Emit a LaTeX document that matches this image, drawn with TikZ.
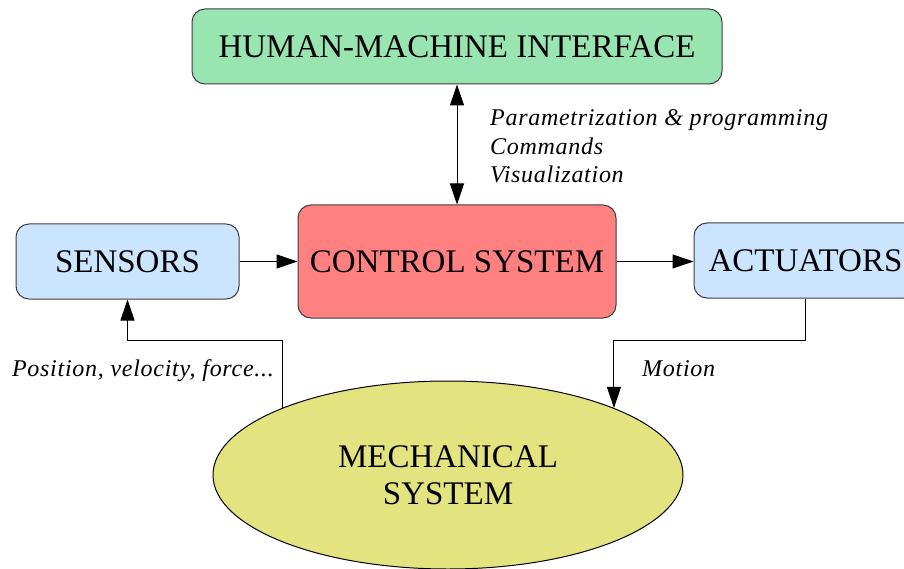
\documentclass[tikz,border=0pt]{standalone}
\usepackage{fontspec}
\setmainfont{Liberation Serif}
\newfontfamily\lblfont[LetterSpace=3]{Liberation Serif}
\usetikzlibrary{arrows.meta,shapes.geometric}

\definecolor{hmifill}{RGB}{153,229,178}
\definecolor{ctrlfill}{RGB}{255,128,128}
\definecolor{iofill}{RGB}{204,229,255}
\definecolor{mechfill}{RGB}{227,227,128}
\definecolor{edge}{RGB}{60,60,60}

\begin{document}
\begin{tikzpicture}[x=1pt,y=-1pt,
  box/.style={draw=edge, line width=1pt, rounded corners=13pt, inner sep=0pt,
    font=\fontsize{33}{37}\selectfont},
  conn/.style={line width=1pt, -{Triangle[length=21pt,width=14pt]}},
  biconn/.style={line width=1pt, {Triangle[length=21pt,width=14pt]}-{Triangle[length=21pt,width=14pt]}},
  lbl/.style={inner sep=0pt, font=\lblfont\itshape\fontsize{24}{28.5}\selectfont}
]
\clip (0,0) rectangle (904,569);

% blocks
\node[box, fill=hmifill, minimum width=530pt, minimum height=75pt] (hmi) at (457,46.5) {HUMAN-MACHINE INTERFACE};
\node[box, fill=iofill, minimum width=223pt, minimum height=75pt] (sens) at (127.5,261.5) {SENSORS};
\node[box, fill=ctrlfill, minimum width=318pt, minimum height=113pt] (ctrl) at (457,261.5) {CONTROL SYSTEM};
\node[box, fill=iofill, minimum width=223pt, minimum height=75pt] (act) at (805.5,260.5) {ACTUATORS};
\node[ellipse, draw=black, line width=1pt, fill=mechfill, inner sep=0pt,
  minimum width=470pt, minimum height=188pt, align=center,
  font=\fontsize{33}{37}\selectfont] (mech) at (448,475) {MECHANICAL\\SYSTEM};

% connectors
\draw[biconn] (hmi.south) -- (ctrl.north);
\draw[conn] (sens.east) -- (ctrl.west);
\draw[conn] (ctrl.east) -- (ctrl.east -| act.west);
\coordinate (bendy) at (0,340);
\draw[conn] (act.south) |- (mech.22 |- bendy) -- (mech.22);
\draw[conn] (mech.158) -- (mech.158 |- bendy) -| (sens.south);

% labels (the base anchor of a multi-line node sits on its last line)
\node[lbl, anchor=base west, align=left] (hmilbl) at (490,183)
  {Parametrization \& programming\\Commands\\Visualization};
\node[lbl, anchor=base east] (senslbl) at (274,376) {Position, velocity, force...};
\node[lbl, anchor=base west] (motlbl) at (642,376) {Motion};
\end{tikzpicture}
\end{document}
